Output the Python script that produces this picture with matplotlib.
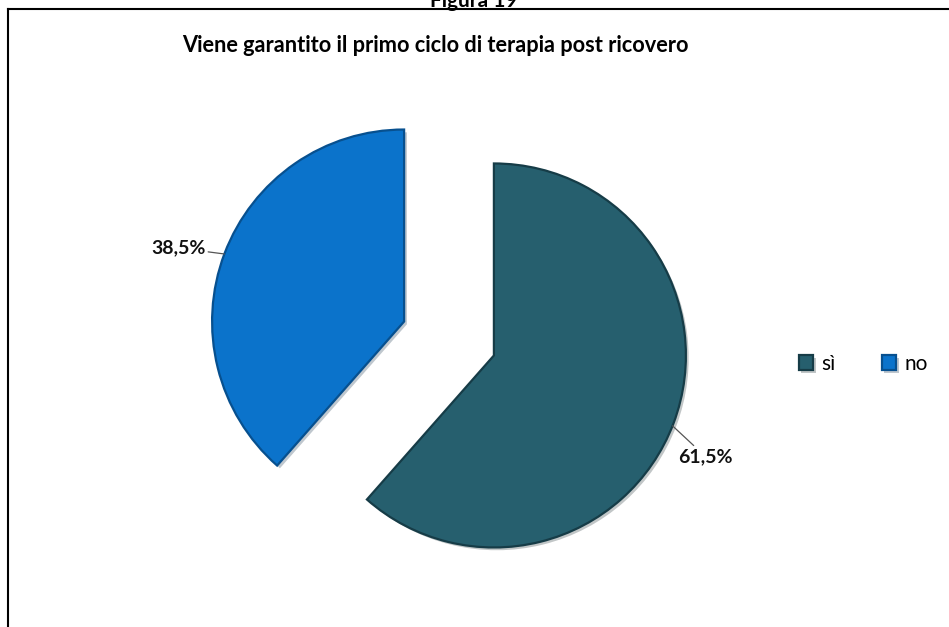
import numpy as np
import matplotlib.pyplot as plt
import matplotlib.patheffects as pe
from matplotlib.lines import Line2D

# dati del grafico
categorie = ['sì', 'no']
valori = [61.5, 38.5]
etichette = ['61,5%', '38,5%']
colori = ['#265F6E', '#0B73CB']
bordi = ['#163C47', '#07508F']

W, H = 949, 627
R = 192

fig = plt.figure(figsize=(W / 100, H / 100), dpi=100)
ax = fig.add_axes([0, 0, 1, 1])

# explode in unità di dati (pixel)
wedges, _ = ax.pie(valori, colors=colori, startangle=90, counterclock=False,
                   explode=[0.25 * R, 0.25 * R], center=(449, H - 338.5), radius=R)
for w, b in zip(wedges, bordi):
    w.set_edgecolor(b)
    w.set_linewidth(1.6)
    w.set_path_effects([pe.SimplePatchShadow(offset=(2, -2), alpha=0.25),
                        pe.Normal()])

ax.set_xlim(0, W)
ax.set_ylim(0, H)
ax.set_aspect('auto')
ax.axis('off')

# etichette percentuali con linea guida
def etichetta(w, testo, ang, dx, dy, ha):
    cx, cy = w.center
    a = np.radians(ang)
    px, py = cx + w.r * np.cos(a), cy + w.r * np.sin(a)
    ax.annotate(testo, xy=(px, py), xytext=(px + dx, py + dy),
                ha=ha, va='center', fontsize=14, fontweight='bold',
                family='Lato', color='#111111',
                arrowprops=dict(arrowstyle='-', color='#555555', lw=0.9,
                                shrinkA=0, shrinkB=0))

etichetta(wedges[0], etichette[0], -21.5, 6, -31, 'left')
etichetta(wedges[1], etichette[1], 159.4, -19, 6, 'right')

# titolo
fig.text(435 / W, 1 - 46 / H, 'Viene garantito il primo ciclo di terapia post ricovero',
         ha='center', va='center', fontsize=15.7, fontweight='bold', family='Lato')
fig.text(474 / W, 1 - 1 / H, 'Figura 19', ha='center', va='center',
         fontsize=15, fontweight='bold', family='Lato')

# cornice
fig.add_artist(Line2D([7.5 / W, 1], [1 - 9 / H, 1 - 9 / H], transform=fig.transFigure,
                      color='black', lw=1.5))
fig.add_artist(Line2D([7.5 / W, 7.5 / W], [0, 1 - 9 / H], transform=fig.transFigure,
                      color='black', lw=1.5))

leg = fig.legend(wedges, categorie, loc='center left',
                 bbox_to_anchor=(784 / W, 1 - 364 / H), ncol=2, frameon=False,
                 handlelength=0.7, handleheight=0.7, handletextpad=0.4,
                 columnspacing=2.2, borderpad=0.2,
                 prop={'family': 'Lato', 'size': 15})

fig.savefig('out.png', dpi=100, facecolor='white')
